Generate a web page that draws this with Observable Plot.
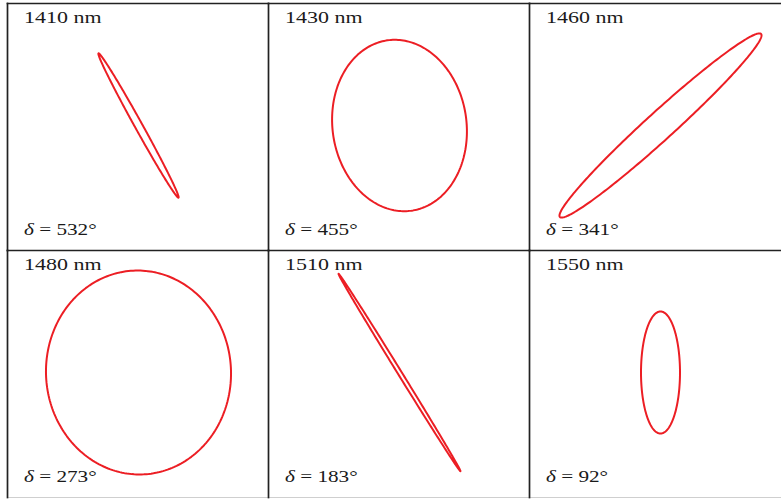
<!DOCTYPE html>
<html>
<head>
<meta charset="utf-8">
<script src="https://cdn.jsdelivr.net/npm/d3@7"></script>
<script src="https://cdn.jsdelivr.net/npm/@observablehq/plot@0.6"></script>
<style>
  html, body { margin: 0; padding: 0; background: #fff; overflow: hidden; }
  #chart { width: 781px; height: 499px; overflow: hidden; }
  #chart svg { max-width: none !important; }
  #chart text { font-family: "Liberation Serif", "Times New Roman", serif !important; }
</style>
</head>
<body>
<div id="chart"></div>
<script>
// Panels: wavelength (nm), retardance label (deg), polarization ellipse parameters
const wavelengths = [1410, 1430, 1460, 1480, 1510, 1550];
const deltas      = [532, 455, 341, 273, 183, 92];
const semiMajor   = [82.5, 86, 136, 102, 116, 61];
const semiMinor   = [3.8, 67, 14, 92.5, 2, 19.5];
const orientation = [119, 98, 42.3, 93, 121.7, 90]; // degrees from horizontal

const panels = wavelengths.map((wl, i) => ({
  i, wl, delta: deltas[i], col: i % 3, row: Math.floor(i / 3)
}));

// ellipse traced from its parameters
const points = [];
panels.forEach(p => {
  const a = semiMajor[p.i], b = semiMinor[p.i], th = orientation[p.i] * Math.PI / 180;
  const n = 240;
  for (let k = 0; k < n; k++) {
    const t = 2 * Math.PI * k / n;
    points.push({
      panel: p.i, col: p.col, row: p.row,
      x: a * Math.cos(t) * Math.cos(th) - b * Math.sin(t) * Math.sin(th),
      y: a * Math.cos(t) * Math.sin(th) + b * Math.sin(t) * Math.cos(th)
    });
  }
});

const red = "#ec1e24";
const ink = "#1a1a1a";
const font = "'Liberation Serif', 'Times New Roman', serif";

const chart = Plot.plot({
  width: 790,
  height: 499,
  marginLeft: 7,
  marginRight: 0,
  marginTop: 3,
  marginBottom: 2,
  x: { domain: [-131, 130], axis: null },
  y: { domain: [-125, 122], axis: null },
  fx: { domain: [0, 1, 2], axis: null, padding: 0 },
  fy: { domain: [0, 1], axis: null, padding: 0 },
  style: { background: "#fff", fontFamily: font, color: ink, maxWidth: "none" },
  marks: [
    Plot.frame({ anchor: "bottom", stroke: "#cfcfcf", strokeWidth: 1 }),
    Plot.frame({ anchor: "left", stroke: "#222", strokeWidth: 1.7 }),
    Plot.frame({ anchor: "top", stroke: "#222", strokeWidth: 1.7 }),
    Plot.line(points, {
      x: "x", y: "y", z: "panel", fx: "col", fy: "row",
      curve: "linear-closed", stroke: red, strokeWidth: 2
    }),
    Plot.text(panels, {
      fx: "col", fy: "row", frameAnchor: "top-left",
      text: d => `${d.wl} nm`, textAnchor: "start", lineAnchor: "bottom",
      dx: 16.5, dy: 19.7, fontSize: 16, fontFamily: font, fill: ink
    }),
    Plot.text(panels, {
      fx: "col", fy: "row", frameAnchor: "bottom-left",
      text: d => `δ = ${d.delta}°`, textAnchor: "start", lineAnchor: "bottom",
      dx: 16.5, dy: -15.5, fontSize: 16, fontFamily: font, fill: ink
    })
  ]
});

document.getElementById("chart").appendChild(chart);

// italic delta and horizontally widened lettering (as in the reference)
const texts = d3.select(chart).selectAll("text");
let topFactor = 1, botFactor = 1;
texts.each(function () {
  const t = this.textContent;
  if (t === `${wavelengths[0]} nm`) topFactor = 77.5 / this.getComputedTextLength();
  if (t.startsWith("δ")) {
    this.textContent = "";
    d3.select(this).append("tspan").attr("font-style", "italic").text("δ");
    d3.select(this).append("tspan").text(t.slice(1));
    this.dataset.kind = "delta";
    if (t === `δ = ${deltas[0]}°`) botFactor = 72.7 / this.getComputedTextLength();
  }
});
texts.each(function () {
  const L = this.getComputedTextLength();
  const f = this.dataset.kind === "delta" ? botFactor : topFactor;
  this.setAttribute("textLength", (L * f).toFixed(2));
  this.setAttribute("lengthAdjust", "spacingAndGlyphs");
});
</script>
</body>
</html>
